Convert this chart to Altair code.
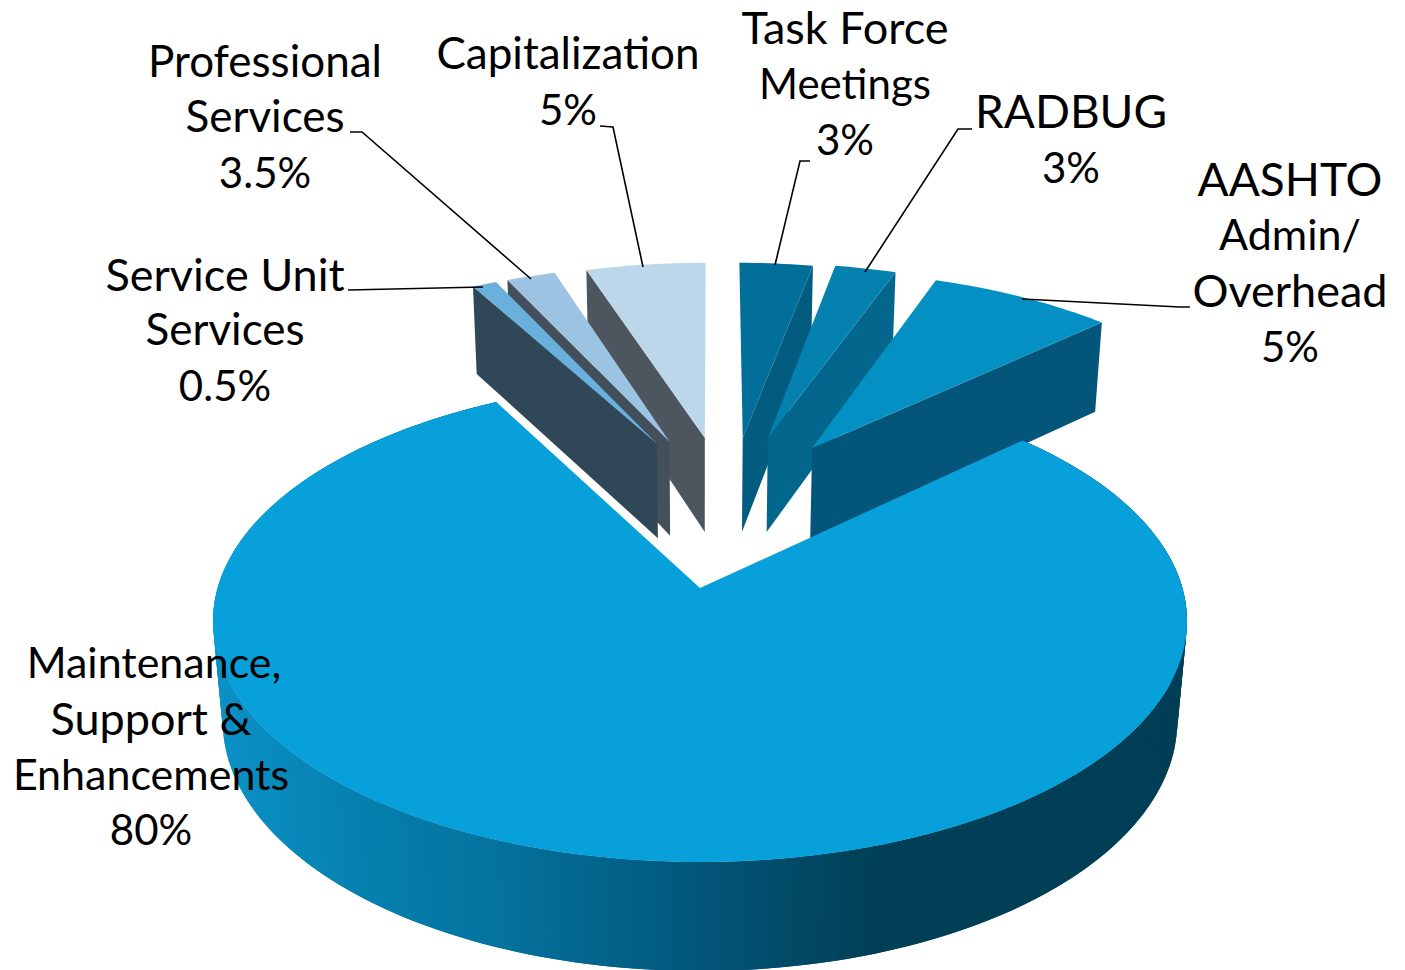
import math
import altair as alt
import pandas as pd

# ---- data -------------------------------------------------------------
categories = ["Task Force Meetings", "RADBUG", "AASHTO Admin/Overhead",
              "Maintenance, Support & Enhancements", "Service Unit Services",
              "Professional Services", "Capitalization"]
# share of the circle each slice takes as drawn (clockwise from the top)
drawn_share = [3.0, 2.5, 7.5, 79.1, 1.0, 2.0, 4.9]
start_angle = 0.2

# ---- styles / layout --------------------------------------------------
top_colors = ["#026F9A", "#0581B0", "#0590C3", "#07A0DA", "#6AB0DD", "#9CC4E2", "#BCD6EA"]
wall_colors = ["#015C80", "#03678D", "#03567A", None, "#2F4756", "#43505C", "#4D565F"]
explode_u = [0.097, 0.154, 0.253, 0.0, -0.097, -0.069, 0.011]
explode_v = [0.694, 0.694, 0.644, 0.0, 0.664, 0.676, 0.694]
visible_face = ["end", "end", "end", None, "start", "start", "start"]
paint_order = [6, 5, 4, 0, 1, 2, 3]
gradient_x = [213, 360, 500, 700, 880, 1187]
gradient_c = ["#0B91C6", "#0580AE", "#04729D", "#03567A", "#013F56", "#013F56"]

label_lines = ["Task Force", "Meetings", "3%", "RADBUG", "3%", "AASHTO", "Admin/", "Overhead", "5%",
               "Capitalization", "5%", "Professional", "Services", "3.5%",
               "Service Unit", "Services", "0.5%",
               "Maintenance,", "Support &", "Enhancements", "80%"]
label_size = [45, 42, 42, 46, 42, 46, 43, 45, 42,
              44, 42, 44, 44, 42,
              45, 44, 42,
              43, 45, 43, 42]
label_cx = [845, 845, 845, 1071, 1071, 1290, 1290, 1290, 1290, 568, 568, 265, 265, 265,
            225, 225, 225, 154, 151, 151, 151]
label_cy = [29, 85, 141, 113, 169, 181, 236, 292, 348, 55, 111, 63, 118, 174,
            276, 331, 387, 664, 720, 776, 831]
leaders = [
    [(348, 289), (483, 286)],
    [(350, 131), (362, 131), (531, 278)],
    [(600, 125), (613, 126), (643, 266)],
    [(810, 160), (800, 160), (775, 264)],
    [(972, 128), (958, 128), (865, 271)],
    [(1190, 306), (1180, 306), (1022, 298)],
]

# ---- 3D projection ----------------------------------------------------
CX, CY, F, G, K, WALL, SHRINK = 700, 587, 482.4, 236.5, 0.137, 101.7, 0.02


def project(u, v, bottom=False):
    d = 1 + K * v + (SHRINK if bottom else 0)
    x = CX + F * u / d
    y = CY - (G * v - (WALL if bottom else 0)) / d
    return [round(x, 2), round(y, 2)]


def rim(i, a):
    r = math.radians(a)
    return explode_u[i] + math.sin(r), explode_v[i] + math.cos(r)


def grad(x):
    for j in range(len(gradient_x) - 1):
        if x <= gradient_x[j + 1]:
            t = max(0, (x - gradient_x[j]) / (gradient_x[j + 1] - gradient_x[j]))
            a, b = gradient_c[j], gradient_c[j + 1]
            return "#" + "".join(
                "%02x" % round(int(a[p:p + 2], 16) * (1 - t) + int(b[p:p + 2], 16) * t)
                for p in (1, 3, 5))
    return gradient_c[-1]


def feature(ring, color, name):
    ring = ring + [ring[0]]
    return {"type": "Feature", "properties": {"fill": color, "name": name},
            "geometry": {"type": "Polygon", "coordinates": [ring]}}


spans, a0 = [], start_angle
for s in drawn_share:
    spans.append((a0, a0 + s * 3.6))
    a0 += s * 3.6

features = []
for i in paint_order:
    a, b = spans[i]
    steps = max(2, int(b - a))
    angles = [a + (b - a) * n / steps for n in range(steps + 1)]
    apex = (explode_u[i], explode_v[i])
    if visible_face[i]:
        e = rim(i, b if visible_face[i] == "end" else a)
        features.append(feature([project(*e), project(*apex), project(*apex, True), project(*e, True)],
                                wall_colors[i], categories[i]))
    else:
        # wall strips overlap the next strip so no seams show between them
        for n in range(steps):
            p, q = rim(i, angles[n]), rim(i, angles[min(n + 2, steps)])
            mid = (project(*p)[0] + project(*rim(i, angles[n + 1]))[0]) / 2
            features.append(feature([project(*p), project(*q), project(*q, True), project(*p, True)],
                                    grad(mid), categories[i]))
    features.append(feature([project(*apex)] + [project(*rim(i, t)) for t in angles],
                            top_colors[i], categories[i]))

slices = alt.Chart(alt.Data(values=features)).mark_geoshape(stroke=None, strokeWidth=0).encode(
    fill=alt.Color("properties.fill:N", scale=None),
).project(type="identity", scale=1, translate=[-8, -8])

leader_df = pd.DataFrame([
    {"id": n, "o": m, "x": x - 8, "y": y - 8}
    for n, pts in enumerate(leaders) for m, (x, y) in enumerate(pts)
])
lines = alt.Chart(leader_df).mark_line(color="black", strokeWidth=1.6).encode(
    x=alt.X("x:Q", scale=None), y=alt.Y("y:Q", scale=None),
    detail="id:N", order="o:Q")

label_df = pd.DataFrame({"t": label_lines, "s": label_size,
                         "x": [v - 8 for v in label_cx], "y": [v - 8 for v in label_cy]})
labels = alt.Chart(label_df).mark_text(
    font="Lato", color="black", align="center", baseline="middle"
).encode(x=alt.X("x:Q", scale=None), y=alt.Y("y:Q", scale=None), text="t:N",
         size=alt.Size("s:Q", scale=None, legend=None))

chart = alt.layer(slices, lines, labels).properties(
    width=1389, height=962, padding=0
).configure_view(stroke=None)

chart.save("out.html", embed_options={"renderer": "svg", "actions": False})
